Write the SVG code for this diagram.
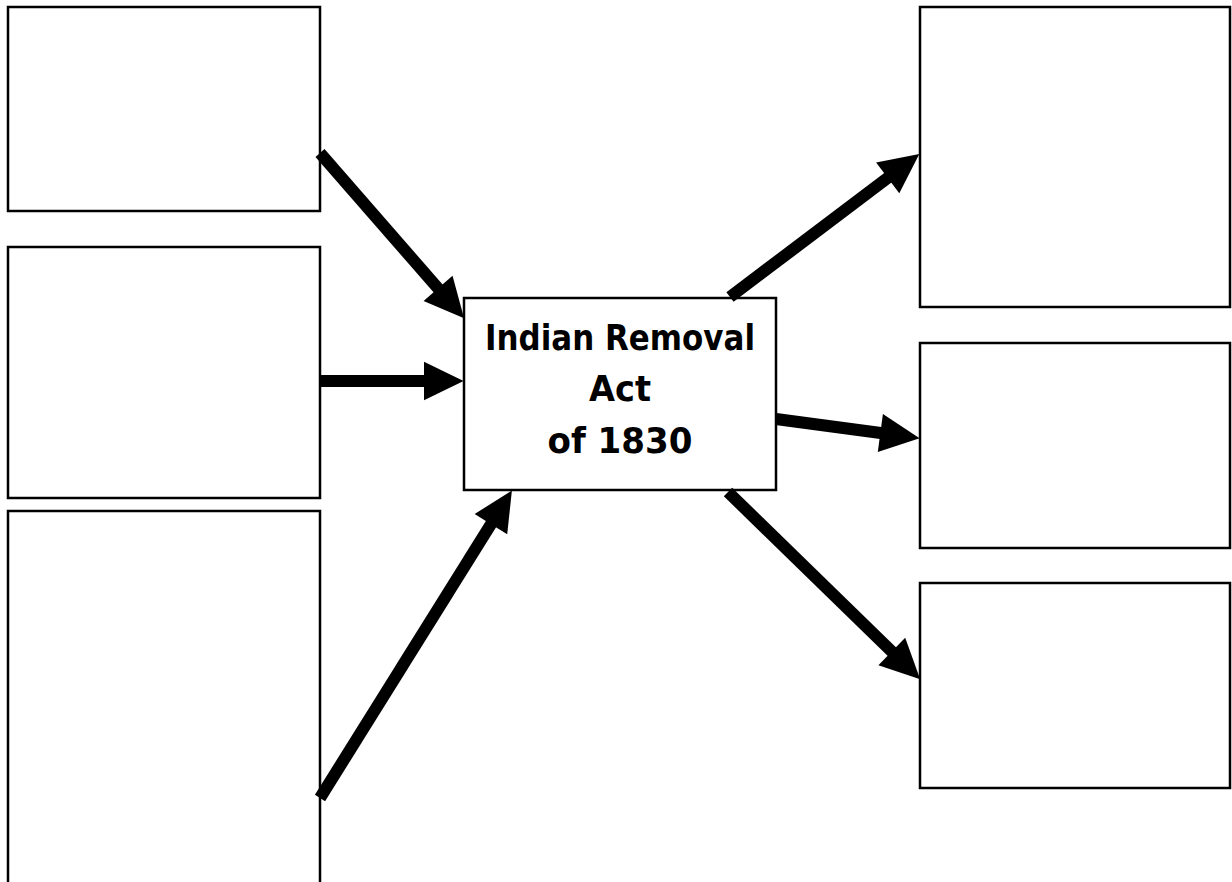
<svg xmlns="http://www.w3.org/2000/svg" width="1232" height="882" viewBox="0 0 1232 882">
<style>
.box{fill:#fff;stroke:#000;stroke-width:2.5}
.arr{stroke:#000;stroke-width:12;fill:none;marker-end:url(#head)}
.lbl{font-family:"DejaVu Sans",sans-serif;font-weight:bold;font-size:36px;fill:#000;text-anchor:middle}
</style>
<defs>
<marker id="head" markerUnits="strokeWidth" markerWidth="3.3" markerHeight="3.2" refX="0.5" refY="1.6" orient="auto" overflow="visible">
<path d="M0,0 L3.3,1.6 L0,3.2 z" fill="#000"/>
</marker>
</defs>
<rect width="1232" height="882" fill="#fff"/>
<g id="left1"><rect class="box" x="8" y="7" width="312" height="204"/></g>
<g id="left2"><rect class="box" x="8" y="247" width="312" height="251"/></g>
<g id="left3"><rect class="box" x="8" y="511" width="312" height="400"/></g>
<g id="right1"><rect class="box" x="920" y="7" width="310" height="300"/></g>
<g id="right2"><rect class="box" x="920" y="343" width="310" height="205"/></g>
<g id="right3"><rect class="box" x="920" y="583" width="310" height="205"/></g>
<g id="center">
<rect class="box" x="464" y="298" width="312" height="192"/>
<text class="lbl" x="620" y="350" textLength="270" lengthAdjust="spacingAndGlyphs">Indian Removal</text>
<text class="lbl" x="620" y="401" textLength="62" lengthAdjust="spacingAndGlyphs">Act</text>
<text class="lbl" x="620" y="453" textLength="145" lengthAdjust="spacingAndGlyphs">of 1830</text>
</g>
<g id="connectors">
<line class="arr" x1="320" y1="153" x2="442" y2="292.9"/>
<line class="arr" x1="320" y1="381" x2="430" y2="381"/>
<line class="arr" x1="320" y1="798" x2="494.1" y2="519.1"/>
<line class="arr" x1="730" y1="297" x2="892.5" y2="174.3"/>
<line class="arr" x1="776" y1="419" x2="886.3" y2="433.8"/>
<line class="arr" x1="728" y1="492" x2="896.1" y2="655.7"/>
</g>
</svg>
